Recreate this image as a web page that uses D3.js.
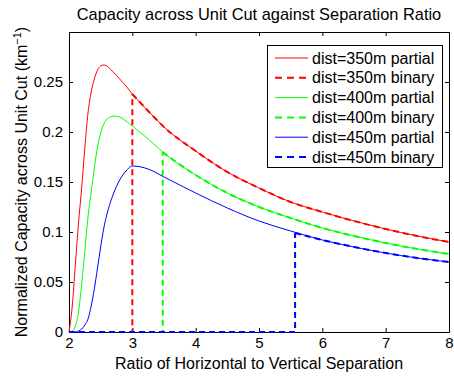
<!DOCTYPE html>
<html>
<head>
<meta charset="utf-8">
<script src="https://cdn.jsdelivr.net/npm/d3@7.9.0/dist/d3.min.js"></script>
<style>
  body { margin: 0; background: #fff; }
  svg { display: block; font-family: "Liberation Sans", Arial, sans-serif; }
  .axis text { font-size: 15px; fill: #000; }
  .axis path, .axis line { stroke: #000; }
</style>
</head>
<body>
<svg id="chart" width="454" height="377"></svg>
<script>
// Separation ratio samples (x)
const ratios = [2, 2.05, 2.1, 2.15, 2.2, 2.25, 2.3, 2.35, 2.4, 2.45, 2.5, 2.55, 2.6, 2.65, 2.7, 2.8, 2.9, 3.0,
                3.25, 3.5, 4, 4.5, 5, 5.5, 6, 6.5, 7, 7.5, 8];

// Partial capacity, one list per distance
const partial350 = [0, 0.025, 0.067, 0.109, 0.144, 0.184, 0.219, 0.240, 0.253, 0.262, 0.266, 0.267, 0.266, 0.263, 0.260,
                    0.253, 0.246, 0.238, 0.221, 0.205, 0.181, 0.160, 0.144, 0.130, 0.120, 0.111, 0.103, 0.096, 0.090];
const partial400 = [0, 0.001, 0.006, 0.020, 0.048, 0.081, 0.115, 0.140, 0.164, 0.185, 0.199, 0.208, 0.213, 0.215, 0.216,
                    0.215, 0.211, 0.206, 0.193, 0.179, 0.157, 0.139, 0.125, 0.114, 0.104, 0.096, 0.089, 0.083, 0.078];
const partial450 = [0, 0, 0, 0.001, 0.003, 0.007, 0.013, 0.026, 0.043, 0.064, 0.085, 0.104, 0.118, 0.129, 0.138,
                    0.152, 0.161, 0.166, 0.163, 0.155, 0.139, 0.124, 0.111, 0.101, 0.092, 0.085, 0.079, 0.074, 0.070];

// Binary scheme: zero until the cutoff ratio, then the partial value
const distances = ["350m", "400m", "450m"];
const colors = ["#ff0000", "#00ff00", "#0000ff"];
const binaryCutoff = [3.0, 3.48, 5.57];
const binaryJump = [0.238, 0.180, 0.099];

const xTicks = [2, 3, 4, 5, 6, 7, 8];
const yTicks = [0, 0.05, 0.1, 0.15, 0.2, 0.25];

const svg = d3.select("#chart");
const margin = { left: 69, right: 5, top: 32, bottom: 45 };
const W = 454, H = 377;

const x = d3.scaleLinear().domain([2, 8]).range([margin.left, W - margin.right]);
const y = d3.scaleLinear().domain([0, 0.3]).range([H - margin.bottom, margin.top]);

const partials = [partial350, partial400, partial450];

// Build series
const series = [];
partials.forEach((vals, i) => {
    const pts = ratios.map((r, j) => [r, vals[j]]);
    series.push({ label: `dist=${distances[i]} partial`, color: colors[i], dashed: false, pts: pts });
    const cut = binaryCutoff[i];
    const bin = [[2, 0], [cut, 0], [cut, binaryJump[i]]]
        .concat(pts.filter(p => p[0] > cut));
    series.push({ label: `dist=${distances[i]} binary`, color: colors[i], dashed: true, pts: bin, cut: cut });
});

const x0 = x.range()[0], x1 = x.range()[1], y0 = y.range()[0], y1 = y.range()[1];

// Axes first (ticks pointing inward, box on), lines drawn over them
svg.append("g").attr("class", "axis")
    .attr("transform", `translate(0,${y0})`)
    .call(d3.axisBottom(x).tickValues(xTicks).tickFormat(d3.format("d"))
        .tickSizeInner(-4).tickSizeOuter(0).tickPadding(5));
svg.append("g").attr("class", "axis")
    .attr("transform", `translate(0,${y1})`)
    .call(d3.axisTop(x).tickValues(xTicks).tickFormat("")
        .tickSizeInner(-4).tickSizeOuter(0));
svg.append("g").attr("class", "axis")
    .attr("transform", `translate(${x0},0)`)
    .call(d3.axisLeft(y).tickValues(yTicks).tickFormat(d => d === 0 ? "0" : String(+d.toFixed(2)))
        .tickSizeInner(-4).tickSizeOuter(0).tickPadding(6));
svg.append("g").attr("class", "axis")
    .attr("transform", `translate(${x1},0)`)
    .call(d3.axisRight(y).tickValues(yTicks).tickFormat("")
        .tickSizeInner(-4).tickSizeOuter(0));

const line = d3.line().x(d => x(d[0])).y(d => y(d[1])).curve(d3.curveMonotoneX);
const lineStraight = d3.line().x(d => x(d[0])).y(d => y(d[1]));

const plot = svg.append("g");
series.forEach(s => {
    if (s.dashed) {
        // straight part (bottom + vertical), then the curved tail
        const head = s.pts.slice(0, 3);
        const tail = [s.pts[2]].concat(s.pts.slice(3));
        plot.append("path")
            .attr("d", lineStraight(head))
            .attr("fill", "none").attr("stroke", s.color)
            .attr("stroke-width", 2).attr("stroke-dasharray", "6,4");
        plot.append("path")
            .attr("d", line(tail))
            .attr("fill", "none").attr("stroke", s.color)
            .attr("stroke-width", 2).attr("stroke-dasharray", "6,4");
    } else {
        plot.append("path")
            .attr("d", line(s.pts))
            .attr("fill", "none").attr("stroke", s.color)
            .attr("stroke-width", 1);
    }
});

// Titles
svg.append("text")
    .attr("x", (x0 + x1) / 2).attr("y", 20)
    .attr("text-anchor", "middle").style("font-size", "16.4px")
    .text("Capacity across Unit Cut against Separation Ratio");

svg.append("text")
    .attr("x", (x0 + x1) / 2).attr("y", 369)
    .attr("text-anchor", "middle").style("font-size", "16px")
    .text("Ratio of Horizontal to Vertical Separation");

const yl = svg.append("text")
    .attr("transform", `translate(27,${(y0 + y1) / 2}) rotate(-90)`)
    .attr("text-anchor", "middle").style("font-size", "16px");
yl.append("tspan").text("Normalized Capacity across Unit Cut (km");
yl.append("tspan").attr("dy", -6).style("font-size", "11px").text("\u22121");
yl.append("tspan").attr("dy", 6).text(")");

// Legend
const lg = svg.append("g");
lg.append("rect")
    .attr("x", 267.5).attr("y", 45.5).attr("width", 175).attr("height", 122)
    .attr("fill", "#fff").attr("stroke", "#000").attr("stroke-width", 1);
series.forEach((s, i) => {
    const cy = 58 + i * 19.8;
    lg.append("line")
        .attr("x1", 275).attr("x2", 308).attr("y1", cy).attr("y2", cy)
        .attr("stroke", s.color)
        .attr("stroke-width", s.dashed ? 2 : 1)
        .attr("stroke-dasharray", s.dashed ? "7,5" : null);
    lg.append("text")
        .attr("x", 312).attr("y", cy).attr("dy", "0.35em")
        .style("font-size", "16px")
        .text(s.label);
});
</script>
</body>
</html>
